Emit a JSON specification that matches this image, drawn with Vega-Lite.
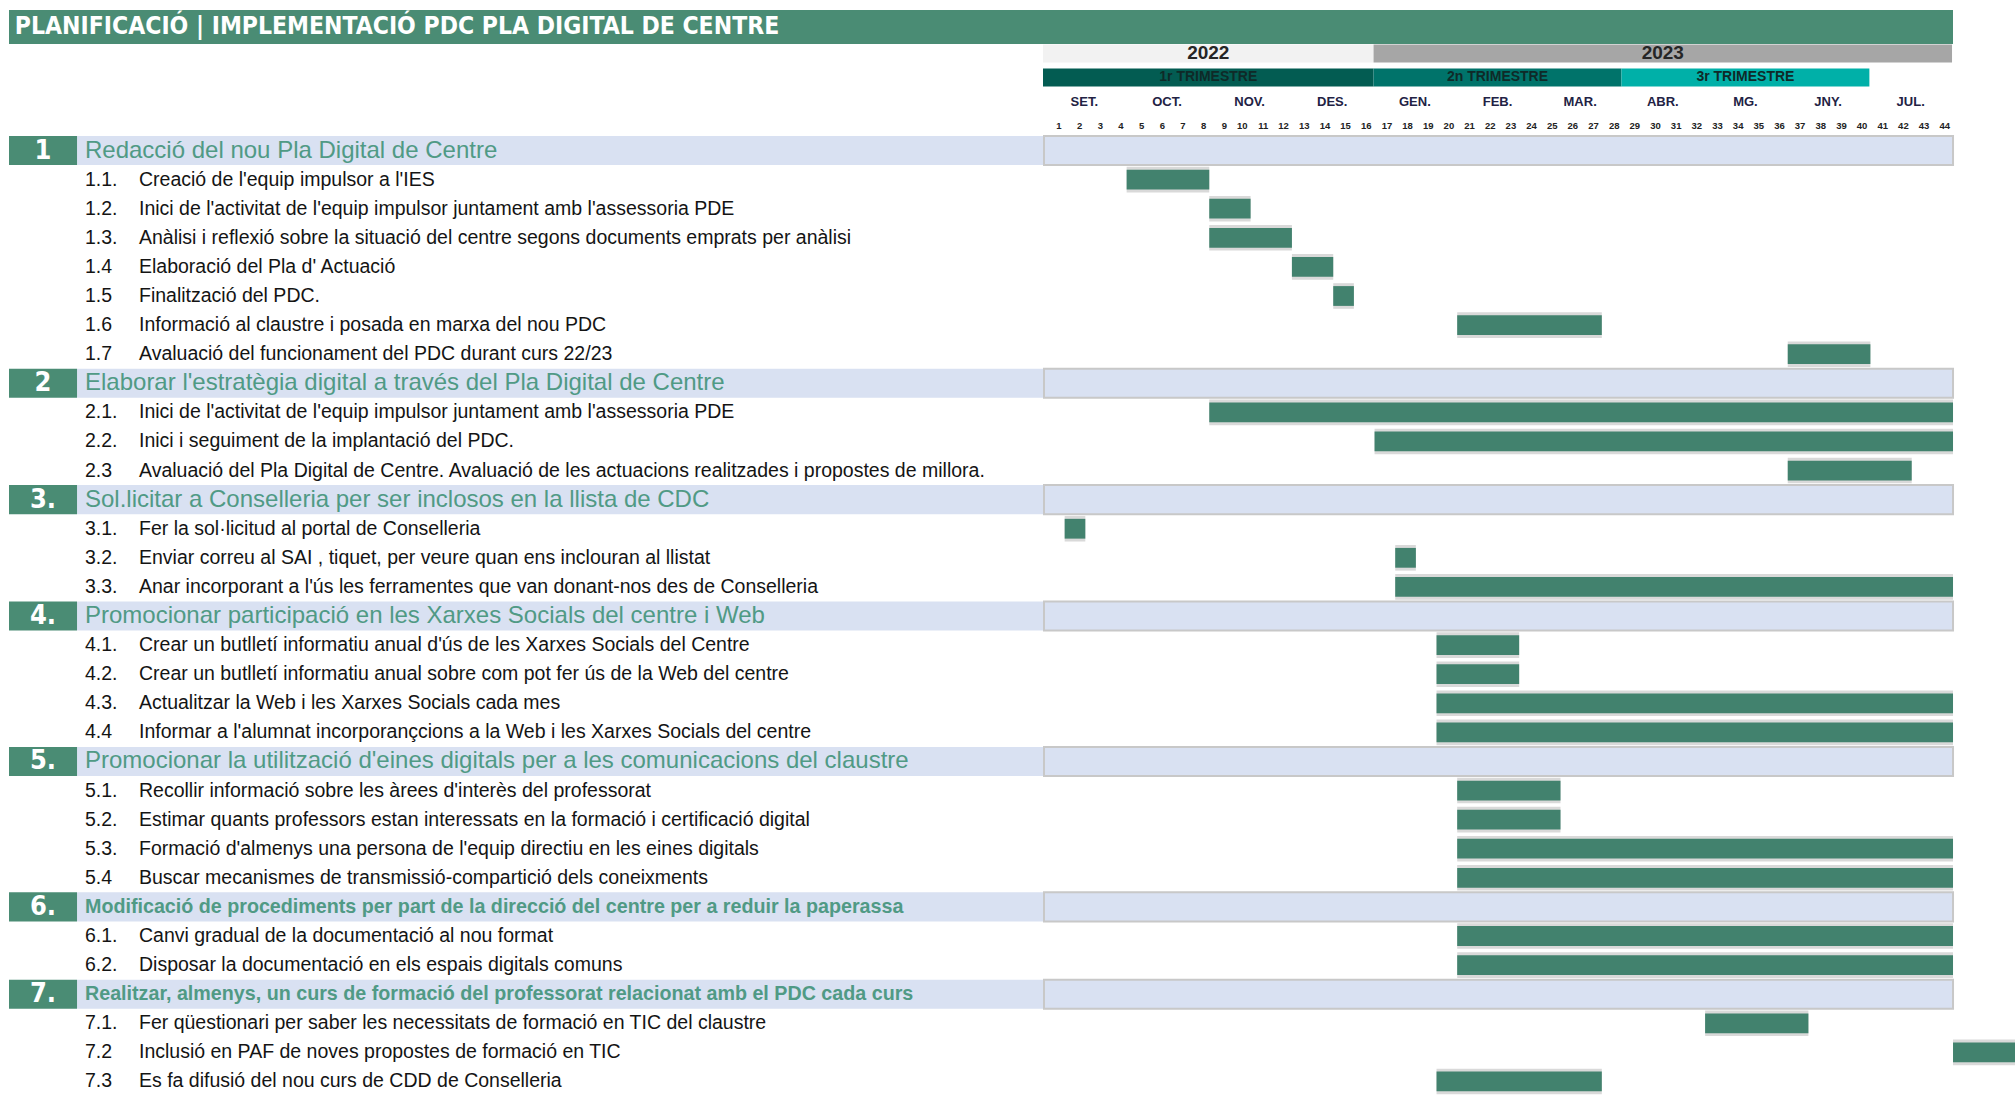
{
  "$schema": "https://vega.github.io/schema/vega-lite/v6.json",
  "padding": {"left": 9, "top": 10, "right": 0, "bottom": 0},
  "background": "white",
  "spacing": 0,
  "config": {"view": {"stroke": null}, "text": {"font": "Liberation Sans"}},
  "datasets": {
    "rows": [
      {"num": "1", "kind": "section", "text": "Redacció del  nou Pla Digital de Centre"},
      {"num": "1.1.", "kind": "task", "text": "Creació de l'equip impulsor  a l'IES", "start": 4, "end": 8},
      {"num": "1.2.", "kind": "task", "text": "Inici de l'activitat de l'equip impulsor  juntament amb l'assessoria PDE", "start": 8, "end": 10},
      {"num": "1.3.", "kind": "task", "text": "Anàlisi i reflexió sobre la situació del centre segons documents emprats per anàlisi", "start": 8, "end": 12},
      {"num": "1.4", "kind": "task", "text": "Elaboració del Pla d' Actuació", "start": 12, "end": 14},
      {"num": "1.5", "kind": "task", "text": "Finalització del  PDC.", "start": 14, "end": 15},
      {"num": "1.6", "kind": "task", "text": "Informació al claustre i posada en marxa del nou PDC", "start": 20, "end": 27},
      {"num": "1.7", "kind": "task", "text": "Avaluació del funcionament del PDC durant curs 22/23", "start": 36, "end": 40},
      {"num": "2", "kind": "section", "text": "Elaborar l'estratègia digital a través del Pla Digital de Centre"},
      {"num": "2.1.", "kind": "task", "text": "Inici de l'activitat de l'equip impulsor juntament amb l'assessoria PDE", "start": 8, "end": 44},
      {"num": "2.2.", "kind": "task", "text": "Inici i seguiment de la implantació del PDC.", "start": 16, "end": 44},
      {"num": "2.3", "kind": "task", "text": "Avaluació del Pla Digital de Centre. Avaluació de les actuacions realitzades i propostes de millora.", "start": 36, "end": 42},
      {"num": "3.", "kind": "section", "text": "Sol.licitar a Conselleria per ser inclosos en la llista de CDC"},
      {"num": "3.1.", "kind": "task", "text": "Fer la sol·licitud al portal de Conselleria", "start": 1, "end": 2},
      {"num": "3.2.", "kind": "task", "text": "Enviar correu al SAI , tiquet, per veure quan ens inclouran al llistat", "start": 17, "end": 18},
      {"num": "3.3.", "kind": "task", "text": "Anar incorporant a l'ús les ferramentes que van donant-nos des de Conselleria", "start": 17, "end": 44},
      {"num": "4.", "kind": "section", "text": "Promocionar participació en les Xarxes Socials del centre i Web"},
      {"num": "4.1.", "kind": "task", "text": "Crear  un  butlletí  informatiu anual d'ús de les Xarxes Socials del Centre", "start": 19, "end": 23},
      {"num": "4.2.", "kind": "task", "text": "Crear un  butlletí  informatiu anual sobre com pot fer ús de la Web del centre", "start": 19, "end": 23},
      {"num": "4.3.", "kind": "task", "text": "Actualitzar la Web i les Xarxes Socials cada mes", "start": 19, "end": 44},
      {"num": "4.4", "kind": "task", "text": "Informar a l'alumnat incorporançcions a la Web i les Xarxes Socials del centre", "start": 19, "end": 44},
      {"num": "5.", "kind": "section", "text": "Promocionar la utilització d'eines digitals per a les comunicacions del claustre"},
      {"num": "5.1.", "kind": "task", "text": "Recollir informació sobre les àrees d'interès del professorat", "start": 20, "end": 25},
      {"num": "5.2.", "kind": "task", "text": "Estimar quants professors estan interessats en la formació i certificació digital", "start": 20, "end": 25},
      {"num": "5.3.", "kind": "task", "text": "Formació d'almenys una persona de l'equip directiu en les eines digitals", "start": 20, "end": 44},
      {"num": "5.4", "kind": "task", "text": "Buscar mecanismes de transmissió-compartició dels coneixments", "start": 20, "end": 44},
      {"num": "6.", "kind": "section", "text": "Modificació de procediments per part de la direcció del centre per a reduir la paperassa"},
      {"num": "6.1.", "kind": "task", "text": "Canvi gradual de la documentació al nou format", "start": 20, "end": 44},
      {"num": "6.2.", "kind": "task", "text": "Disposar la documentació en els espais digitals comuns", "start": 20, "end": 44},
      {"num": "7.", "kind": "section", "text": "Realitzar, almenys, un curs de formació del professorat relacionat amb el PDC cada curs"},
      {"num": "7.1.", "kind": "task", "text": "Fer qüestionari per saber les necessitats de formació en  TIC del claustre", "start": 32, "end": 37},
      {"num": "7.2", "kind": "task", "text": "Inclusió en PAF de noves propostes de formació en TIC", "start": 44, "end": 47},
      {"num": "7.3", "kind": "task", "text": "Es fa difusió del nou curs de CDD de Conselleria", "start": 19, "end": 27}
    ],
    "years": [
      {"label": "2022", "start": 0, "end": 16, "mid": 8},
      {"label": "2023", "start": 16, "end": 44, "mid": 30}
    ],
    "terms": [
      {"label": "1r TRIMESTRE", "start": 0, "end": 16, "mid": 8},
      {"label": "2n TRIMESTRE", "start": 16, "end": 28, "mid": 22},
      {"label": "3r TRIMESTRE", "start": 28, "end": 40, "mid": 34}
    ],
    "months": [
      {"label": "SET.", "mid": 2}, {"label": "OCT.", "mid": 6}, {"label": "NOV.", "mid": 10},
      {"label": "DES.", "mid": 14}, {"label": "GEN.", "mid": 18}, {"label": "FEB.", "mid": 22},
      {"label": "MAR.", "mid": 26}, {"label": "ABR.", "mid": 30}, {"label": "MG.", "mid": 34},
      {"label": "JNY.", "mid": 38}, {"label": "JUL.", "mid": 42}
    ],
    "weeks": [
      {"n": 1}, {"n": 2}, {"n": 3}, {"n": 4}, {"n": 5}, {"n": 6}, {"n": 7}, {"n": 8}, {"n": 9}, {"n": 10},
      {"n": 11}, {"n": 12}, {"n": 13}, {"n": 14}, {"n": 15}, {"n": 16}, {"n": 17}, {"n": 18}, {"n": 19}, {"n": 20},
      {"n": 21}, {"n": 22}, {"n": 23}, {"n": 24}, {"n": 25}, {"n": 26}, {"n": 27}, {"n": 28}, {"n": 29}, {"n": 30},
      {"n": 31}, {"n": 32}, {"n": 33}, {"n": 34}, {"n": 35}, {"n": 36}, {"n": 37}, {"n": 38}, {"n": 39}, {"n": 40},
      {"n": 41}, {"n": 42}, {"n": 43}, {"n": 44}
    ]
  },
  "vconcat": [
    {
      "width": 1944,
      "height": 34,
      "view": {"fill": "#4a8c74", "stroke": null},
      "data": {"values": [{"t": "PLANIFICACIÓ | IMPLEMENTACIÓ PDC PLA DIGITAL DE CENTRE"}]},
      "mark": {"type": "text", "align": "left", "baseline": "middle", "color": "white", "fontSize": 24.5, "fontWeight": "bold", "font": "Liberation Sans Narrow, DejaVu Sans Condensed, sans-serif"},
      "encoding": {
        "x": {"datum": 0.003, "type": "quantitative", "scale": {"domain": [0, 1], "nice": false}, "axis": null},
        "text": {"field": "t"}
      }
    },
    {
      "spacing": 0,
      "hconcat": [
        {
          "width": 1034,
          "height": 91,
          "data": {"values": [{"t": ""}]},
          "mark": "text",
          "encoding": {"text": {"field": "t"}}
        },
        {
          "width": 971,
          "height": 91,
          "encoding": {
            "y": {"type": "nominal", "scale": {"domain": ["year", "term", "month", "week"], "paddingInner": 0.25, "paddingOuter": 0.02}, "axis": null}
          },
          "layer": [
            {
              "data": {"name": "years"},
              "mark": {"type": "bar"},
              "encoding": {
                "x": {"field": "start", "type": "quantitative", "scale": {"domain": [0, 47], "nice": false, "zero": false}, "axis": null},
                "x2": {"field": "end"},
                "y": {"datum": "year"},
                "color": {"field": "label", "type": "nominal", "scale": {"domain": ["2022", "2023"], "range": ["#f2f2f2", "#a6a6a6"]}, "legend": null}
              }
            },
            {
              "data": {"name": "years"},
              "mark": {"type": "text", "fontSize": 19, "fontWeight": "bold", "color": "#262626", "baseline": "middle"},
              "encoding": {
                "x": {"field": "mid", "type": "quantitative"},
                "y": {"datum": "year"},
                "text": {"field": "label"}
              }
            },
            {
              "data": {"name": "terms"},
              "mark": {"type": "rect"},
              "encoding": {
                "x": {"field": "start", "type": "quantitative"},
                "x2": {"field": "end"},
                "y": {"datum": "term"},
                "fill": {"field": "label", "type": "nominal", "scale": {"domain": ["1r TRIMESTRE", "2n TRIMESTRE", "3r TRIMESTRE"], "range": ["#035c52", "#00736a", "#00b0a8"]}, "legend": null}
              }
            },
            {
              "data": {"name": "terms"},
              "mark": {"type": "text", "fontSize": 14, "fontWeight": "bold", "color": "#0f2a28", "baseline": "middle"},
              "encoding": {
                "x": {"field": "mid", "type": "quantitative"},
                "y": {"datum": "term"},
                "text": {"field": "label"}
              }
            },
            {
              "data": {"name": "months"},
              "mark": {"type": "text", "fontSize": 13, "fontWeight": "bold", "color": "#222244", "baseline": "middle"},
              "encoding": {
                "x": {"field": "mid", "type": "quantitative"},
                "y": {"datum": "month"},
                "text": {"field": "label"}
              }
            },
            {
              "data": {"name": "weeks"},
              "mark": {"type": "text", "fontSize": 9.5, "fontWeight": "bold", "color": "#222222", "baseline": "middle", "align": "right", "dx": -2},
              "encoding": {
                "x": {"field": "n", "type": "quantitative"},
                "y": {"datum": "week"},
                "text": {"field": "n"}
              }
            }
          ]
        }
      ]
    },
    {
      "spacing": 0,
      "hconcat": [
        {
          "width": 1034,
          "height": 960,
          "data": {"name": "rows"},
          "encoding": {
            "y": {"field": "num", "type": "nominal", "scale": {"domain": ["1", "1.1.", "1.2.", "1.3.", "1.4", "1.5", "1.6", "1.7", "2", "2.1.", "2.2.", "2.3", "3.", "3.1.", "3.2.", "3.3.", "4.", "4.1.", "4.2.", "4.3.", "4.4", "5.", "5.1.", "5.2.", "5.3.", "5.4", "6.", "6.1.", "6.2.", "7.", "7.1.", "7.2", "7.3"], "paddingInner": 0, "paddingOuter": 0}, "axis": null}
          },
          "layer": [
            {
              "transform": [{"filter": "datum.kind === 'section'"}],
              "mark": {"type": "bar", "color": "#d9e1f2"},
              "encoding": {
                "x": {"datum": 6.58, "type": "quantitative", "scale": {"domain": [0, 100], "nice": false, "zero": false}, "axis": null},
                "x2": {"datum": 100}
              }
            },
            {
              "transform": [{"filter": "datum.kind === 'section'"}],
              "mark": {"type": "bar", "color": "#4a8c74"},
              "encoding": {
                "x": {"datum": 0, "type": "quantitative"},
                "x2": {"datum": 6.58}
              }
            },
            {
              "transform": [{"filter": "datum.kind === 'section'"}],
              "mark": {"type": "text", "color": "white", "fontSize": 27, "fontWeight": "bold", "font": "Liberation Sans Narrow, DejaVu Sans Condensed, sans-serif", "baseline": "middle"},
              "encoding": {
                "x": {"datum": 3.29, "type": "quantitative"},
                "text": {"field": "num"}
              }
            },
            {
              "transform": [{"filter": "datum.kind === 'section' && datum.num !== '6.' && datum.num !== '7.'"}],
              "mark": {"type": "text", "color": "#509a85", "fontSize": 24, "align": "left", "baseline": "middle"},
              "encoding": {
                "x": {"datum": 7.35, "type": "quantitative"},
                "text": {"field": "text"}
              }
            },
            {
              "transform": [{"filter": "datum.num === '6.' || datum.num === '7.'"}],
              "mark": {"type": "text", "color": "#509a85", "fontSize": 19.7, "fontWeight": "bold", "align": "left", "baseline": "middle"},
              "encoding": {
                "x": {"datum": 7.35, "type": "quantitative"},
                "text": {"field": "text"}
              }
            },
            {
              "transform": [{"filter": "datum.kind === 'task'"}],
              "mark": {"type": "text", "color": "#141414", "fontSize": 19.5, "align": "left", "baseline": "middle"},
              "encoding": {
                "x": {"datum": 7.35, "type": "quantitative"},
                "text": {"field": "num"}
              }
            },
            {
              "transform": [{"filter": "datum.kind === 'task'"}],
              "mark": {"type": "text", "color": "#141414", "fontSize": 19.5, "align": "left", "baseline": "middle"},
              "encoding": {
                "x": {"datum": 12.57, "type": "quantitative"},
                "text": {"field": "text"}
              }
            }
          ]
        },
        {
          "width": 971,
          "height": 960,
          "data": {"name": "rows"},
          "encoding": {
            "y": {"field": "num", "type": "nominal", "scale": {"domain": ["1", "1.1.", "1.2.", "1.3.", "1.4", "1.5", "1.6", "1.7", "2", "2.1.", "2.2.", "2.3", "3.", "3.1.", "3.2.", "3.3.", "4.", "4.1.", "4.2.", "4.3.", "4.4", "5.", "5.1.", "5.2.", "5.3.", "5.4", "6.", "6.1.", "6.2.", "7.", "7.1.", "7.2", "7.3"], "paddingInner": 0, "paddingOuter": 0}, "axis": null}
          },
          "layer": [
            {
              "transform": [{"filter": "datum.kind === 'section'"}],
              "mark": {"type": "bar", "color": "#d9e1f2", "stroke": "#c8c8c8", "strokeWidth": 2},
              "encoding": {
                "x": {"datum": 0, "type": "quantitative", "scale": {"domain": [0, 47], "nice": false, "zero": false}, "axis": null},
                "x2": {"datum": 44}
              }
            },
            {
              "transform": [{"filter": "datum.kind === 'task'"}],
              "mark": {"type": "bar", "color": "#d9d9d9", "height": {"band": 0.88}},
              "encoding": {
                "x": {"field": "start", "type": "quantitative"},
                "x2": {"field": "end"}
              }
            },
            {
              "transform": [{"filter": "datum.kind === 'task'"}],
              "mark": {"type": "bar", "color": "#42826e", "height": {"band": 0.68}},
              "encoding": {
                "x": {"field": "start", "type": "quantitative"},
                "x2": {"field": "end"}
              }
            }
          ]
        }
      ]
    }
  ]
}
